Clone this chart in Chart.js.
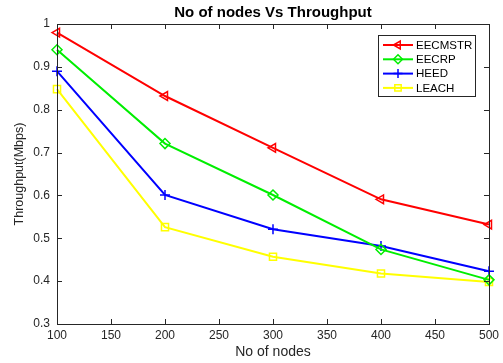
<!DOCTYPE html>
<html><head><meta charset="utf-8">
<script src="https://cdn.jsdelivr.net/npm/chart.js@4/dist/chart.umd.min.js"></script>
<style>html,body{margin:0;padding:0;background:#fff}#wrap{width:503px;height:363px}</style>
</head><body><div id="wrap"><canvas id="c" width="503" height="363"></canvas></div>
<script>
const nodes = [100, 200, 300, 400, 500];
const eecmstr = [0.98, 0.832, 0.711, 0.591, 0.532];
const eecrp = [0.94, 0.721, 0.601, 0.474, 0.403];
const heed = [0.89, 0.601, 0.521, 0.482, 0.423];
const leach = [0.848, 0.526, 0.457, 0.418, 0.398];
const xTicks = [100, 150, 200, 250, 300, 350, 400, 450, 500];
const yTicks = [0.3, 0.4, 0.5, 0.6, 0.7, 0.8, 0.9, 1];
const titleText = 'No of nodes Vs Throughput';
const xTitle = 'No of nodes';
const yTitle = 'Throughput(Mbps)';
const FONT = '"Liberation Sans", Arial, sans-serif';

function mk(label, vals, color, style, rot) {
  return {label, data: nodes.map((x,i)=>({x, y: vals[i]})), borderColor: color, backgroundColor: 'rgba(0,0,0,0)',
    borderWidth: 2, pointStyle: style, pointRotation: rot||0, pointRadius: 5, pointBorderWidth: 1.5,
    pointBackgroundColor: 'rgba(0,0,0,0)', pointBorderColor: color, tension: 0, fill: false, clip: false};
}
const datasets = [
  mk('EECMSTR', eecmstr, '#ff0000', 'triangle', -90),
  mk('EECRP', eecrp, '#00ee00', 'rectRot', 0),
  mk('HEED', heed, '#0000ff', 'cross', 0),
  mk('LEACH', leach, '#ffff00', 'rect', 0)
];

const deco = {
  id: 'deco',
  afterDraw(chart) {
    const ctx = chart.ctx, a = chart.chartArea, xs = chart.scales.x, ys = chart.scales.y;
    ctx.save();
    ctx.strokeStyle = '#262626'; ctx.lineWidth = 1;
    ctx.strokeRect(Math.round(a.left)+0.5, Math.round(a.top)+0.5, Math.round(a.right-a.left), Math.round(a.bottom-a.top));
    ctx.beginPath();
    xTicks.forEach(v => { const p = Math.round(xs.getPixelForValue(v))+0.5;
      ctx.moveTo(p, a.bottom); ctx.lineTo(p, a.bottom-5); ctx.moveTo(p, a.top); ctx.lineTo(p, a.top+5); });
    yTicks.forEach(v => { const p = Math.round(ys.getPixelForValue(v))+0.5;
      ctx.moveTo(a.left, p); ctx.lineTo(a.left+5, p); ctx.moveTo(a.right, p); ctx.lineTo(a.right-5, p); });
    ctx.stroke();
    // titles
    ctx.fillStyle = '#000';
    ctx.textAlign = 'center'; ctx.textBaseline = 'middle';
    ctx.font = 'bold 15px ' + FONT;
    ctx.fillText(titleText, (a.left+a.right)/2, 13);
    ctx.fillStyle = '#262626';
    ctx.font = '14px ' + FONT;
    ctx.fillText(xTitle, (a.left+a.right)/2, 352);
    ctx.save(); ctx.translate(20, (a.top+a.bottom)/2); ctx.rotate(-Math.PI/2);
    ctx.font = '12.5px ' + FONT; ctx.fillText(yTitle, 0, 0); ctx.restore();
    // legend
    const lx = 378, ly = 35, lw = 97, lh = 61;
    ctx.fillStyle = '#fff'; ctx.fillRect(lx, ly, lw, lh);
    ctx.strokeStyle = '#262626'; ctx.lineWidth = 1; ctx.strokeRect(lx+0.5, ly+0.5, lw, lh);
    ctx.font = '11.5px ' + FONT; ctx.textAlign = 'left';
    chart.data.datasets.forEach((d, i) => {
      const y = ly + 10 + i*14.3;
      ctx.strokeStyle = d.borderColor; ctx.lineWidth = 2;
      ctx.beginPath(); ctx.moveTo(lx+5, y); ctx.lineTo(lx+35, y); ctx.stroke();
      ctx.lineWidth = 1.5; ctx.fillStyle = 'rgba(0,0,0,0)';
      Chart.helpers.drawPoint(ctx, {pointStyle: d.pointStyle, rotation: d.pointRotation, radius: 4.5, borderWidth: 1.5}, lx+20, y);
      ctx.fillStyle = '#000'; ctx.fillText(d.label, lx+38, y+0.5);
    });
    ctx.restore();
  }
};

new Chart(document.getElementById('c'), {
  type: 'line',
  data: {datasets},
  options: {
    responsive: false, animation: false, devicePixelRatio: 1,
    layout: {padding: {top: 24, right: 12, left: 0, bottom: 0}},
    plugins: {legend: {display: false}, title: {display: false}, tooltip: {enabled: false}},
    scales: {
      x: {type: 'linear', min: 100, max: 500,
        afterBuildTicks: s => { s.ticks = xTicks.map(v => ({value: v})); },
        afterFit: s => { s.height = 39; },
        grid: {display: false, drawTicks: false}, border: {display: false},
        ticks: {color: '#262626', font: {family: FONT, size: 12}, padding: 4, maxRotation: 0, autoSkip: false}},
      y: {type: 'linear', min: 0.3, max: 1,
        afterBuildTicks: s => { s.ticks = yTicks.map(v => ({value: v})); },
        afterFit: s => { s.width = 57; },
        grid: {display: false, drawTicks: false}, border: {display: false},
        ticks: {color: '#262626', font: {family: FONT, size: 12}, padding: 7, autoSkip: false,
          callback: v => String(Math.round(v*10)/10)}}
    }
  },
  plugins: [deco]
});
</script></body></html>
